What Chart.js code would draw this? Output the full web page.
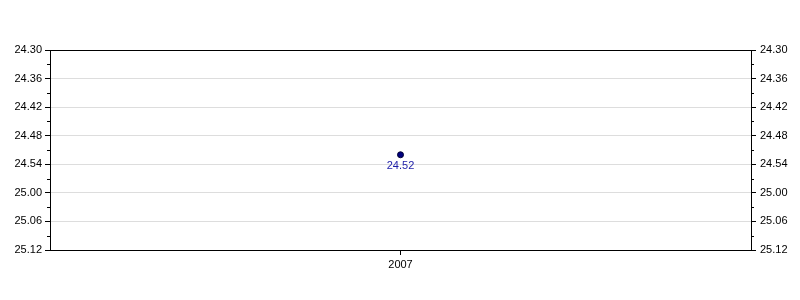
<!DOCTYPE html>
<html>
<head>
<meta charset="utf-8">
<script src="https://cdn.jsdelivr.net/npm/chart.js@4"></script>
<style>
  html, body { margin: 0; padding: 0; background: #fff; }
  #wrap { width: 800px; height: 300px; position: relative; }
</style>
</head>
<body>
<div id="wrap"><canvas id="chart"></canvas></div>
<script>
// data (times as minutes.seconds)
const years = ['2007'];
const times = ['24.52'];
const yMinLabel = '24.30';
const yMaxLabel = '25.12';

const toSeconds = s => { const [m, sec] = s.split('.'); return parseInt(m) * 60 + parseInt(sec); };
const fmt = v => { const m = Math.floor(v / 60); const s = Math.round(v - m * 60); return m + '.' + String(s).padStart(2, '0'); };

const values = times.map(toSeconds);
const FONT = 'Liberation Sans, Arial, sans-serif';

// frame, minor ticks and point labels
const extras = {
    id: 'extras',
    afterDraw(chart) {
        const { ctx, chartArea: a } = chart;
        const y = chart.scales.y;
        ctx.save();
        ctx.strokeStyle = '#000';
        ctx.lineWidth = 1;
        ctx.strokeRect(a.left + 0.5, a.top + 0.5, a.right - a.left, a.bottom - a.top);
        ctx.beginPath();
        for (let v = y.min + 3; v < y.max; v += 6) {
            const py = Math.round(y.getPixelForValue(v)) + 0.5;
            ctx.moveTo(a.left - 3, py); ctx.lineTo(a.left, py);
            ctx.moveTo(a.right, py); ctx.lineTo(a.right + 3, py);
        }
        ctx.stroke();
        const meta = chart.getDatasetMeta(0);
        ctx.fillStyle = '#1c1ca8';
        ctx.font = '11px ' + FONT;
        ctx.textAlign = 'center';
        ctx.textBaseline = 'middle';
        meta.data.forEach((pt, i) => {
            ctx.fillText(times[i], pt.x, pt.y + 11);
        });
        ctx.restore();
    }
};

const yAxis = (position, pad) => ({
    type: 'linear',
    position,
    reverse: true,
    min: toSeconds(yMinLabel),
    max: toSeconds(yMaxLabel),
    afterFit: s => { s.width = position === 'left' ? 50 : 49; },
    ticks: { stepSize: 6, color: '#000', font: { size: 11, family: FONT }, padding: pad, callback: v => fmt(v) },
    grid: { color: '#dddddd', tickColor: '#000', tickLength: 5, drawOnChartArea: position === 'left' },
    border: { color: '#000' }
});

new Chart(document.getElementById('chart'), {
    type: 'line',
    data: {
        labels: years,
        datasets: [{
            data: values,
            showLine: false,
            pointRadius: 3,
            pointBackgroundColor: '#000080',
            pointBorderColor: '#000033',
            pointBorderWidth: 1
        }]
    },
    options: {
        responsive: true,
        maintainAspectRatio: false,
        animation: false,
        layout: { padding: { top: 50, left: 0, right: 0, bottom: 0 } },
        plugins: { legend: { display: false }, tooltip: { enabled: false } },
        scales: {
            x: {
                offset: true,
                afterFit: s => { s.height = 50; },
                ticks: { color: '#000', font: { size: 11, family: FONT }, padding: 3 },
                grid: { drawOnChartArea: false, tickColor: '#000', tickLength: 5, offset: false },
                border: { color: '#000' }
            },
            y: yAxis('left', 3),
            y2: yAxis('right', 4)
        }
    },
    plugins: [extras]
});
</script>
</body>
</html>
